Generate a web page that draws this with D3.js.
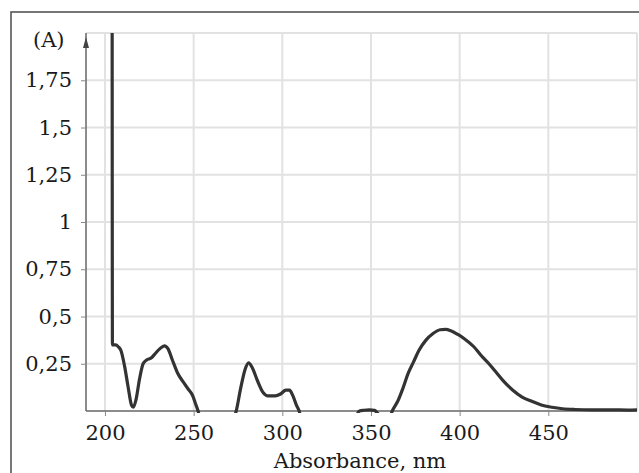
<!DOCTYPE html>
<html>
<head>
<meta charset="utf-8">
<script src="https://cdn.jsdelivr.net/npm/d3@7"></script>
<style>
  body { margin: 0; background: #fff; }
  svg { display: block; }
  .tick text { font-family: "DejaVu Serif", serif; font-size: 21px; fill: #1a1a1a; }
</style>
</head>
<body>
<div id="chart"></div>
<script>
// spectrum (nm, absorbance); values below 0 are clipped by the axis
var wavelength = [204, 204.2, 206, 207.5, 209, 211, 213, 215, 216, 217.5, 219.5, 221.5, 223.5, 226, 228, 231, 233.5, 235.5, 238, 241, 244, 247, 249.5, 251, 252.5, 254,
	272, 274, 276.5, 279, 281, 283, 286, 289, 292, 296, 299, 302, 304, 306, 308, 309.5, 311,
	340, 343.5, 346, 349, 352, 353.5, 360,
	362, 365, 368, 371, 374, 377, 381, 385, 389, 392, 395, 399, 403, 408, 412, 416.5, 421, 425, 430, 435, 441, 446, 452, 458, 465, 475, 485, 495, 500];
var absorbance = [3.0, 0.35, 0.35, 0.34, 0.32, 0.24, 0.13, 0.03, 0.02, 0.06, 0.17, 0.25, 0.27, 0.28, 0.30, 0.33, 0.345, 0.33, 0.27, 0.2, 0.155, 0.115, 0.08, 0.04, 0, -0.05,
	-0.05, 0, 0.12, 0.22, 0.255, 0.23, 0.16, 0.1, 0.08, 0.08, 0.09, 0.11, 0.11, 0.08, 0.03, 0, -0.05,
	-0.05, 0, 0.004, 0.006, 0.003, -0.01, -0.05,
	0, 0.05, 0.12, 0.2, 0.26, 0.32, 0.375, 0.41, 0.43, 0.432, 0.425, 0.405, 0.38, 0.34, 0.295, 0.25, 0.2, 0.155, 0.11, 0.075, 0.05, 0.032, 0.02, 0.012, 0.008, 0.006, 0.006, 0.005, 0.006];

var xTicks = [200, 250, 300, 350, 400, 450];
var xGrid = [200, 250, 300, 350, 400, 450, 500];
var yTicks = [0.25, 0.5, 0.75, 1, 1.25, 1.5, 1.75];
var yGrid = [0.25, 0.5, 0.75, 1, 1.25, 1.5, 1.75, 2];

var data = wavelength.map(function (d, i) {
	return { x: d, y: absorbance[i] };
});

var margin = { top: 33, right: 2, bottom: 62, left: 86 },
	width = 639 - margin.left - margin.right,
	height = 473 - margin.top - margin.bottom;

var svg = d3.select("#chart")
	.append("svg")
	.attr("width", 639)
	.attr("height", 473);

// outer frame, cut by the page edge
svg.append("rect")
	.attr("x", 11)
	.attr("y", 12)
	.attr("width", 700)
	.attr("height", 600)
	.attr("fill", "none")
	.attr("stroke", "#555")
	.attr("stroke-width", 1.6);

var g = svg.append("g")
	.attr("transform", "translate(" + margin.left + "," + margin.top + ")");

var x = d3.scaleLinear()
	.domain([189.3, 500])
	.range([0, width]);

var y = d3.scaleLinear()
	.domain([0, 2])
	.range([height, 0]);

// grid
g.selectAll(".vgrid")
	.data(xGrid)
	.enter()
	.append("line")
	.attr("x1", function (d) { return x(d); })
	.attr("x2", function (d) { return x(d); })
	.attr("y1", 0)
	.attr("y2", height)
	.attr("stroke", "#e2e2e2")
	.attr("stroke-width", 2);

g.selectAll(".hgrid")
	.data(yGrid)
	.enter()
	.append("line")
	.attr("x1", 0)
	.attr("x2", width)
	.attr("y1", function (d) { return y(d); })
	.attr("y2", function (d) { return y(d); })
	.attr("stroke", "#e2e2e2")
	.attr("stroke-width", 2);

// axes
var xAxis = g.append("g")
	.attr("transform", "translate(0," + height + ")")
	.call(d3.axisBottom(x).tickValues(xTicks).tickSize(5).tickPadding(9).tickFormat(d3.format("d")));

var yAxis = g.append("g")
	.call(d3.axisLeft(y).tickValues(yTicks).tickSize(5).tickPadding(9)
		.tickFormat(function (d) { return String(d).replace(".", ","); }));

xAxis.select(".domain").attr("stroke", "#666").attr("stroke-width", 1.5).attr("d", "M0,0H" + width);
yAxis.select(".domain").attr("stroke", "#666").attr("stroke-width", 1.5).attr("d", "M0," + height + "V0");
xAxis.selectAll(".tick line").attr("stroke", "#888");
yAxis.selectAll(".tick line").attr("stroke", "#888");

// arrow on the y axis
g.append("path")
	.attr("d", "M0,4L-3,15L3,15Z")
	.attr("fill", "#444");

// spectrum
g.append("clipPath")
	.attr("id", "clip")
	.append("rect")
	.attr("x", 0)
	.attr("y", 0)
	.attr("width", width)
	.attr("height", height + 2);

var line = d3.line()
	.x(function (d) { return x(d.x); })
	.y(function (d) { return y(d.y); })
	.curve(d3.curveMonotoneX);

g.append("path")
	.datum(data)
	.attr("clip-path", "url(#clip)")
	.attr("fill", "none")
	.attr("stroke", "#333")
	.attr("stroke-width", 3.2)
	.attr("stroke-linejoin", "round")
	.attr("d", line);

svg.append("text")
	.attr("x", 33)
	.attr("y", 47)
	.attr("font-family", "DejaVu Serif, serif")
	.attr("font-size", 21)
	.attr("fill", "#1a1a1a")
	.text("(A)");

svg.append("text")
	.attr("x", 360)
	.attr("y", 468)
	.attr("text-anchor", "middle")
	.attr("font-family", "DejaVu Serif, serif")
	.attr("font-size", 21)
	.attr("fill", "#1a1a1a")
	.text("Absorbance, nm");
</script>
</body>
</html>
